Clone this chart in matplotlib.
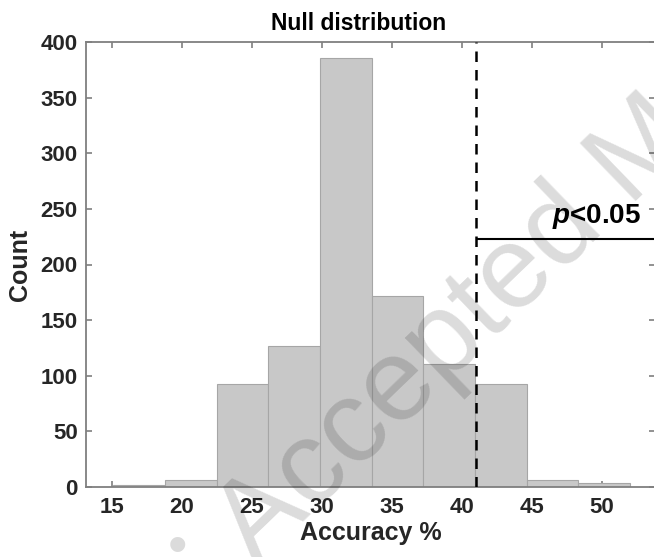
import matplotlib
matplotlib.use("Agg")
import matplotlib.pyplot as plt
import numpy as np

# ---- data ----
bin_edges = [15.1, 18.79, 22.48, 26.17, 29.86, 33.55, 37.24, 40.93, 44.62, 48.31, 52.0]
counts = [2, 6, 93, 127, 386, 172, 111, 93, 6, 4]
threshold = 41.0
p_line_y = 223.0
x_ticks = [15, 20, 25, 30, 35, 40, 45, 50]
y_ticks = [0, 50, 100, 150, 200, 250, 300, 350, 400]
title = "Null distribution"
xlabel = "Accuracy %"
ylabel = "Count"
watermark = "Accepted Manuscript"

plt.rcParams['font.family'] = ['Liberation Sans', 'DejaVu Sans']
plt.rcParams['mathtext.fontset'] = 'custom'
plt.rcParams['mathtext.bfit'] = 'Liberation Sans:bold:italic'
plt.rcParams['mathtext.bf'] = 'Liberation Sans:bold'
plt.rcParams['mathtext.it'] = 'Liberation Sans:italic'
plt.rcParams['mathtext.rm'] = 'Liberation Sans'

W, H = 654, 557
fig = plt.figure(figsize=(W / 100, H / 100), dpi=100)
left, right, top, bottom = 86, 655, 42, 487
ax = fig.add_axes([left / W, 1 - bottom / H, (right - left) / W, (bottom - top) / H])

edges = np.array(bin_edges)
ax.bar(edges[:-1], counts, width=np.diff(edges), align='edge',
       color='#c8c8c8', edgecolor='#a6a6a6', linewidth=0.8, zorder=2)

ax.set_xlim(13.143, 53.79)
ax.set_ylim(0, 400)

ax.axvline(threshold, color='black', linewidth=1.8, dashes=(4.2, 3.2), zorder=3)
ax.plot([threshold + 0.12, 60], [p_line_y, p_line_y], color='black', linewidth=1.5,
        zorder=3, clip_on=False)
ax.text(46.4, 237.5, r"$\mathbfit{p}$<0.05", fontsize=20, fontweight='bold',
        ha='left', va='baseline', zorder=4, clip_on=False)

ax.set_xticks(x_ticks)
ax.set_yticks(y_ticks)
ax.tick_params(axis='both', direction='in', length=4, width=1.2, color='#7f7f7f',
               top=True, right=True, labelsize=16, labelcolor='#262626')
ax.tick_params(axis='x', pad=7.5)
ax.tick_params(axis='y', pad=6)
for lab in ax.get_xticklabels() + ax.get_yticklabels():
    lab.set_fontweight('bold')
for s in ax.spines.values():
    s.set_color('#7f7f7f')
    s.set_linewidth(1.3)

fig.text(359 / W, 1 - 30 / H, title, fontsize=16.5, fontweight='bold',
         ha='center', va='baseline', color='black')
ax.set_xlabel(xlabel, fontsize=18, fontweight='bold', color='#262626', labelpad=2)
ax.set_ylabel(ylabel, fontsize=18, fontweight='bold', color='#262626', labelpad=6)

# watermark
fig.text(256 / W, 1 - 568 / H, watermark, fontsize=84, rotation=44,
         rotation_mode='anchor', ha='left', va='baseline', color='black', alpha=0.14,
         zorder=10)
fig.text(178 / W, 1 - 549 / H, '\u2022', fontsize=40, ha='center', va='center',
         color='black', alpha=0.14, zorder=10)

fig.savefig('out.png', dpi=100)
